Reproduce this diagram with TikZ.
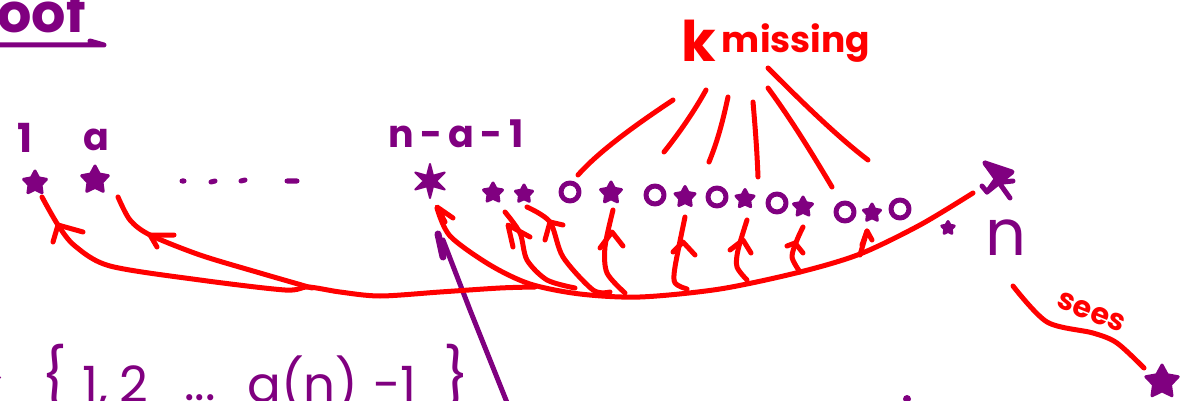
\documentclass[tikz,border=0pt]{standalone}
\usepackage{fontspec}
\setmainfont{Poppins}
\usetikzlibrary{shapes.geometric}
\definecolor{inkpurple}{HTML}{800080}
\definecolor{inkred}{HTML}{FF0000}
\newcommand{\inksize}[1]{\fontsize{#1}{#1}\selectfont}
\tikzset{
  redink/.style={draw=inkred,line width=5pt,line cap=round,line join=round},
  purpleink/.style={draw=inkpurple,line width=5pt,line cap=round,line join=round},
  starmark/.style={star,star points=5,star point ratio=1.9,inner sep=0pt,fill=inkpurple,draw=inkpurple,line width=3pt,line join=round},
  zeromark/.style={circle,draw=inkpurple,line width=5pt,inner sep=0pt,minimum size=18pt},
  purpletext/.style={text=inkpurple,inner sep=0pt,anchor=base},
  redtext/.style={text=inkred,inner sep=0pt,anchor=base},
}
\begin{document}
\begin{tikzpicture}[x=1pt,y=-1pt,line join=round]
\useasboundingbox (0,0) rectangle (1181,401);
% --- heading cut off by the top edge
\node[purpletext,font=\inksize{54}\bfseries] (proof) at (13,33) {Proof};
\draw[purpleink] (0,45) -- (104,45) -- (90,41);
% --- stars along the row
\foreach \nm/\x/\y/\r in {sa/35/183/24,sb/95/180/28,sd/493/193/20,se/524/194/18,sf/611/193/22,sg/685/197/21,sh/745/199/19,si/803/207/20,sj/872/213/18,sk/948/228/13,sl/1162/382/34}
  {\node[starmark,minimum size=\r pt] (\nm) at (\x,\y) {};}
\node[starmark,star points=6,star point ratio=2.8,line width=2pt,minimum size=34pt] (sc) at (430,181) {};
\foreach \nm/\x/\y in {za/570/192,zb/655/195,zc/717/197,zd/777/203,ze/845/212,zf/900/209}
  {\node[zeromark] (\nm) at (\x,\y) {};}
% star n drawn by hand
\coordinate (sn) at (997,180);
\draw[purpleink,fill=inkpurple] (985,163) -- (1012,172) -- (987,192) -- (997,178) -- cycle;
\draw[purpleink] (985,163) -- (1010,198) (982,186) -- (987,192) (1003,182) -- (1013,181);
% --- labels
\node[purpletext,font=\inksize{40}\bfseries] (la) at (25,153) {1};
\node[purpletext,font=\inksize{38}\bfseries] (lb) at (96,150) {a};
\node[purpletext,font=\inksize{38}\bfseries] (lc) at (456,148) {n\,-\,a\,-\,1};
\node[purpletext,font=\inksize{64}] (ln) at (1006,255) {n};
\node[redtext,font=\inksize{56}\bfseries] (lk) at (699,62) {k};
\node[redtext,font=\inksize{36}\bfseries] (lm) at (796,53) {missing};
\node[redtext,font=\inksize{30}\bfseries,rotate=-22] (ls) at (1088,320) {sees};
% dots
\draw[purpleink,line width=5pt] (182,181) -- (184,181) (211,182) -- (215,181) (241,181) -- (245,180) (287,181) -- (297,181);
% --- set below
\node[purpletext,font=\inksize{56}] (ld) at (-8,398) {>};
\node[purpletext,font=\inksize{56}] (le) at (54,396) {\{};
\node[purpletext,font=\inksize{50}] (lf) at (95,402) {1,};
\node[purpletext,font=\inksize{50}] (lg) at (134,402) {2};
\node[purpletext,font=\inksize{50}] (lh) at (200,400) {...};
\node[purpletext,font=\inksize{50}] (li) at (303,402) {a(n)};
\node[purpletext,font=\inksize{50}] (lj) at (395,402) {-1};
\node[purpletext,font=\inksize{56}] (lo) at (456,396) {\}};
\fill[inkpurple] (907,399) circle (4);
% --- the purple stroke from below
\coordinate (pa) at (443,240);
\coordinate (pb) at (508,405);
\draw[purpleink] (pa) -- (470,310) -- (pb);
\draw[purpleink,line width=7pt] (438,234) -- (443,257);
% --- lines from k missing
\coordinate (ka) at (673,100);
\coordinate (kb) at (706,90);
\coordinate (kc) at (728,97);
\coordinate (kd) at (753,102);
\coordinate (ke) at (768,88);
\coordinate (kf) at (768,68);
\draw[redink] (ka) .. controls (640,122) and (600,150) .. (578,175);
\draw[redink] (kb) .. controls (695,110) and (680,132) .. (664,152);
\draw[redink] (kc) .. controls (723,120) and (718,140) .. (709,162);
\draw[redink] (kd) .. controls (755,125) and (757,150) .. (758,177);
\draw[redink] (ke) .. controls (790,118) and (810,150) .. (832,187);
\draw[redink] (kf) .. controls (795,95) and (835,135) .. (868,160);
% --- long curve
\coordinate (ma) at (973,193);
\coordinate (mb) at (437,208);
\coordinate (mc) at (535,287);
\coordinate (md) at (42,197);
\coordinate (me) at (118,197);
\coordinate (mf) at (308,287);
\draw[redink] plot[smooth] coordinates {(ma) (920,225) (860,254) (800,272) (720,289) (640,297) (580,294) (530,284) (490,265) (450,236) (mb)};
\draw[redink] plot[smooth] coordinates {(mc) (500,288) (440,292) (380,296) (340,292) (mf) (285,290) (200,280) (110,266) (75,246) (58,225) (md)};
\draw[redink] plot[smooth] coordinates {(312,288) (260,273) (200,255) (150,235) (130,220) (me)};
% --- arrows up to the stars
\coordinate (ta) at (505,212);
\coordinate (tb) at (527,207);
\coordinate (tc) at (613,210);
\coordinate (td) at (685,217);
\coordinate (te) at (747,220);
\coordinate (tf) at (803,227);
\coordinate (tg) at (867,231);
\draw[redink] plot[smooth] coordinates {(575,288) (547,280) (527,260) (520,233) (ta)};
\draw[redink] plot[smooth] coordinates {(610,292) (593,290) (563,257) (550,222) (tb)};
\draw[redink] plot[smooth] coordinates {(625,293) (607,273) (605,247) (tc)};
\draw[redink] plot[smooth] coordinates {(687,289) (675,283) (675,267) (td)};
\draw[redink] plot[smooth] coordinates {(747,280) (737,267) (738,250) (te)};
\draw[redink] plot[smooth] coordinates {(800,272) (792,257) (797,240) (tf)};
\draw[redink] (860,255) -- (tg);
% barbs of the arrow heads
\foreach \bx/\by/\ax/\ay/\cx/\cy in {53/242/58/225/83/232,157/247/150/235/174/235,445/222/437/207/453/218,513/247/508/225/530/237,545/240/550/222/563/225,600/248/612/232/623/246,673/252/683/242/695/255,730/250/743/240/751/253,787/246/795/243/803/253,862/245/867/231/872/240}
  {\draw[redink] (\bx,\by) -- (\ax,\ay) -- (\cx,\cy);}
% --- n sees the last star
\coordinate (na) at (1013,286);
\coordinate (nb) at (1144,368);
\draw[redink] plot[smooth] coordinates {(na) (1047,322) (1093,333) (1117,343) (nb)};
\end{tikzpicture}
\end{document}
